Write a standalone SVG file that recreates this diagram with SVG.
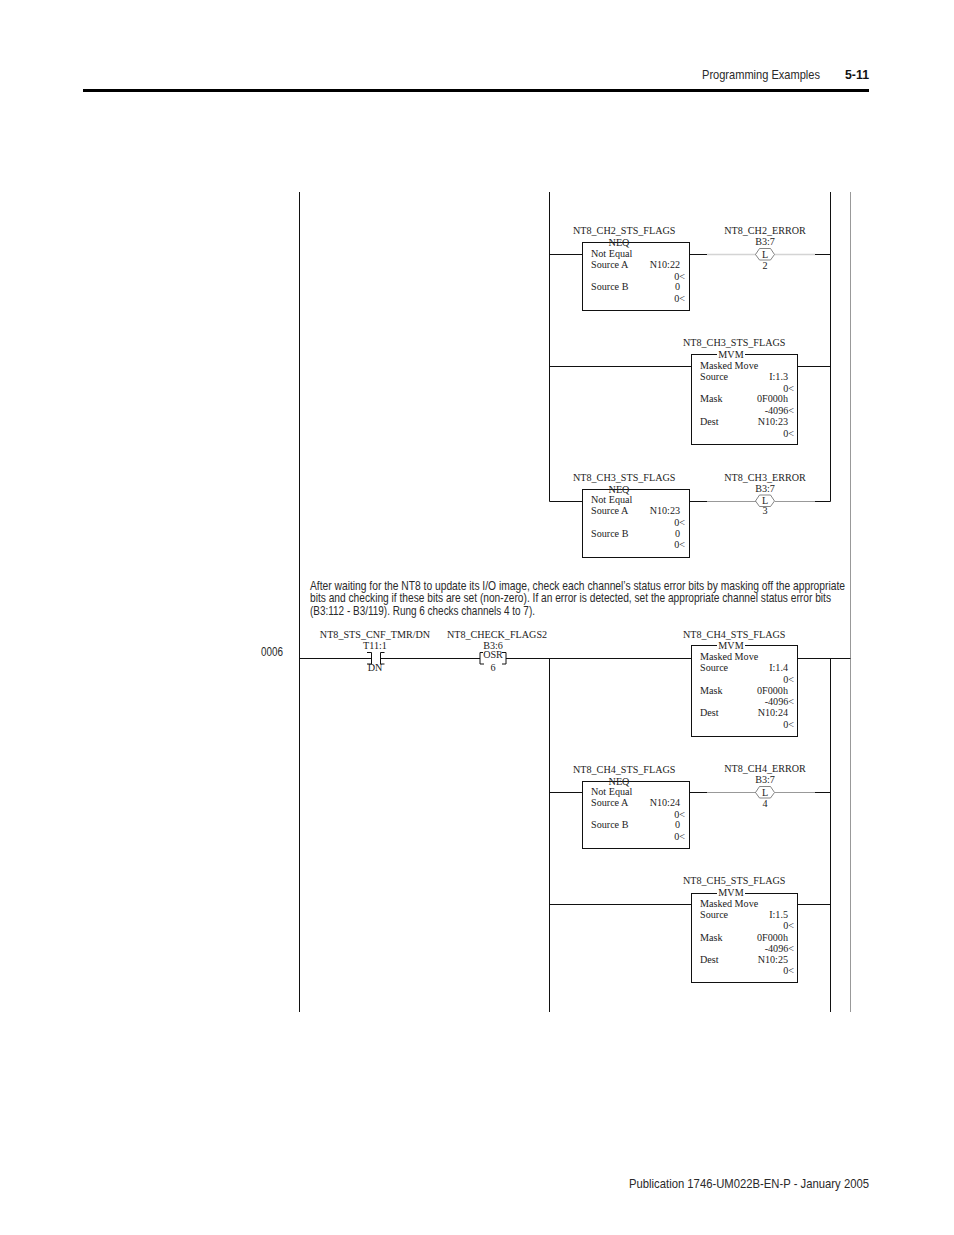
<svg xmlns="http://www.w3.org/2000/svg" width="954" height="1235" viewBox="0 0 954 1235">
<style>
text{font-family:"Liberation Serif","Times New Roman",serif;font-size:10.15px;fill:#222}
.s{font-family:"Liberation Sans",Arial,sans-serif;font-size:12.4px;fill:#2a2a2a}
.b{font-weight:bold;fill:#111}
.m{text-anchor:middle}
.e{text-anchor:end}
.box{fill:#fff;stroke:#111;stroke-width:1}
.w{fill:none;stroke:#111;stroke-width:1}
.g{fill:none;stroke:#999;stroke-width:1}
.gt{fill:none;stroke:#d4d4d4;stroke-width:1.6}
.coil{fill:#fff;stroke:#666;stroke-width:.8}
.k{stroke:#fff;stroke-width:2}
</style>
<g id="page-header">
<text class="s" x="702" y="79" textLength="118" lengthAdjust="spacingAndGlyphs">Programming Examples</text>
<text class="s b" x="845" y="79" textLength="24" lengthAdjust="spacingAndGlyphs">5-11</text>
<rect x="83" y="89" width="786" height="3" fill="#000"/>
</g>
<g id="connectors">
<path class="w" d="M299.500 192V1012M549.500 192V501.500H582M830.500 192V501.500H815M549.500 658V1012M830.500 658V1012"/>
<path d="M850.500 192V1012" fill="none" stroke="#999" stroke-width="1"/>
<path class="w" d="M549.500 254.500H582M689 254.500H707M815 254.500H830.500M549.500 366.500H691M797 366.500H830.500M689 501.500H707"/>
<path class="gt" d="M707 254.500H756M775 254.500H815"/>
<path class="g" d="M707 501.500H756M775 501.500H815"/>
<path class="w" d="M299.500 658.500H371.500M380.500 658.500H480M506 658.500H691M797 658.500H850.500"/>
<path class="w" d="M549.500 792.500H582M689 792.500H707M815 792.500H830.500M549.500 904.500H691M797 904.500H830.500"/>
<path class="g" d="M707 792.500H756M775 792.500H815"/>
</g>
<g id="rung-comment">
<text class="s" x="310" y="590" textLength="535" lengthAdjust="spacingAndGlyphs">After waiting for the NT8 to update its I/O image, check each channel’s status error bits by masking off the appropriate</text>
<text class="s" x="310" y="602" textLength="521" lengthAdjust="spacingAndGlyphs">bits and checking if these bits are set (non-zero). If an error is detected, set the appropriate channel status error bits</text>
<text class="s" x="310" y="615" textLength="225" lengthAdjust="spacingAndGlyphs">(B3:112 - B3/119). Rung 6 checks channels 4 to 7).</text>
<text class="s" x="261" y="656" textLength="22" lengthAdjust="spacingAndGlyphs">0006</text>
</g>
<g id="neq-ch2" transform="translate(582 242)">
<rect class="box" x=".5" y=".5" width="107" height="68"/>
<text x="-9" y="-8">NT8_CH2_STS_FLAGS</text>
<text class="m" x="37" y="3.500">NEQ</text>
<text x="9" y="15">Not Equal</text><text x="9" y="26">Source A</text><text class="e" x="98" y="26">N10:22</text><text class="e" x="103" y="37.500">0&lt;</text><text x="9" y="48">Source B</text><text class="e" x="98" y="48">0</text><text class="e" x="103" y="60">0&lt;</text>
</g>
<g id="coil-ch2" transform="translate(765 254)">
<text class="m" x="0" y="-20">NT8_CH2_ERROR</text><text class="m" x="0" y="-9">B3:7</text>
<path class="coil" d="M-9.500 .5L-5.500-5.500H5.500L9.500 .5L5.500 6H-5.500Z"/><text class="m" x="0" y="3.500">L</text><text class="m" x="0" y="15">2</text>
</g>
<g id="mvm-ch3" transform="translate(691 354)">
<rect class="box" x=".5" y=".5" width="106" height="90"/>
<text x="-8" y="-8">NT8_CH3_STS_FLAGS</text>
<path class="k" d="M26 .5H54"/><text class="m" x="40" y="3.500">MVM</text>
<text x="9" y="15">Masked Move</text><text x="9" y="26">Source</text><text class="e" x="97" y="26">I:1.3</text><text class="e" x="103" y="38">0&lt;</text><text x="9" y="48">Mask</text><text class="e" x="97" y="48">0F000h</text><text class="e" x="103" y="60">-4096&lt;</text><text x="9" y="71">Dest</text><text class="e" x="97" y="71">N10:23</text><text class="e" x="103" y="83">0&lt;</text>
</g>
<g id="neq-ch3" transform="translate(582 489)">
<rect class="box" x=".5" y=".5" width="107" height="68"/>
<text x="-9" y="-8">NT8_CH3_STS_FLAGS</text>
<text class="m" x="37" y="3.500">NEQ</text>
<text x="9" y="14">Not Equal</text><text x="9" y="25">Source A</text><text class="e" x="98" y="25">N10:23</text><text class="e" x="103" y="37">0&lt;</text><text x="9" y="48">Source B</text><text class="e" x="98" y="48">0</text><text class="e" x="103" y="59">0&lt;</text>
</g>
<g id="coil-ch3" transform="translate(765 500)">
<text class="m" x="0" y="-19">NT8_CH3_ERROR</text><text class="m" x="0" y="-8">B3:7</text>
<path class="coil" d="M-9.500 1L-5.500-5H5.500L9.500 1L5.500 6.500H-5.500Z"/><text class="m" x="0" y="4">L</text><text class="m" x="0" y="14">3</text>
</g>
<g id="contact-t11" transform="translate(376 658)">
<text class="m" x="-1" y="-20">NT8_STS_CNF_TMR/DN</text><text class="m" x="-1" y="-9">T11:1</text>
<path class="w" d="M-9-5.500H-4.500V6H-9M8.500-5.500H4.500V6H8.500"/>
<text class="m" x="-1" y="13">DN</text>
</g>
<g id="osr-b3" transform="translate(493 658)">
<text class="m" x="4" y="-20">NT8_CHECK_FLAGS2</text><text class="m" x="0" y="-9">B3:6</text>
<path class="w" d="M-10-5.500H-13V6H-9M9-5.500H13V6H9"/>
<text class="m" x="0" y="-.5">OSR</text><text class="m" x="0" y="13">6</text>
</g>
<g id="mvm-ch4" transform="translate(691 645)">
<rect class="box" x=".5" y=".5" width="106" height="91"/>
<text x="-8" y="-7">NT8_CH4_STS_FLAGS</text>
<path class="k" d="M26 .5H54"/><text class="m" x="40" y="4">MVM</text>
<text x="9" y="15">Masked Move</text><text x="9" y="26">Source</text><text class="e" x="97" y="26">I:1.4</text><text class="e" x="103" y="38">0&lt;</text><text x="9" y="49">Mask</text><text class="e" x="97" y="49">0F000h</text><text class="e" x="103" y="60">-4096&lt;</text><text x="9" y="71">Dest</text><text class="e" x="97" y="71">N10:24</text><text class="e" x="103" y="83">0&lt;</text>
</g>
<g id="neq-ch4" transform="translate(582 781)">
<rect class="box" x=".5" y=".5" width="107" height="67"/>
<text x="-9" y="-8">NT8_CH4_STS_FLAGS</text>
<text class="m" x="37" y="3.500">NEQ</text>
<text x="9" y="14">Not Equal</text><text x="9" y="25">Source A</text><text class="e" x="98" y="25">N10:24</text><text class="e" x="103" y="37">0&lt;</text><text x="9" y="47">Source B</text><text class="e" x="98" y="47">0</text><text class="e" x="103" y="59">0&lt;</text>
</g>
<g id="coil-ch4" transform="translate(765 792)">
<text class="m" x="0" y="-20">NT8_CH4_ERROR</text><text class="m" x="0" y="-9">B3:7</text>
<path class="coil" d="M-9.500 .5L-5.500-5.500H5.500L9.500 .5L5.500 6H-5.500Z"/><text class="m" x="0" y="3.500">L</text><text class="m" x="0" y="15">4</text>
</g>
<g id="mvm-ch5" transform="translate(691 893)">
<rect class="box" x=".5" y=".5" width="106" height="89"/>
<text x="-8" y="-9">NT8_CH5_STS_FLAGS</text>
<path class="k" d="M26 .5H54"/><text class="m" x="40" y="3">MVM</text>
<text x="9" y="14">Masked Move</text><text x="9" y="25">Source</text><text class="e" x="97" y="25">I:1.5</text><text class="e" x="103" y="36">0&lt;</text><text x="9" y="48">Mask</text><text class="e" x="97" y="48">0F000h</text><text class="e" x="103" y="59">-4096&lt;</text><text x="9" y="70">Dest</text><text class="e" x="97" y="70">N10:25</text><text class="e" x="103" y="81">0&lt;</text>
</g>
<g id="page-footer">
<text class="s" x="629" y="1188" textLength="240" lengthAdjust="spacingAndGlyphs">Publication 1746-UM022B-EN-P - January 2005</text>
</g>
</svg>
